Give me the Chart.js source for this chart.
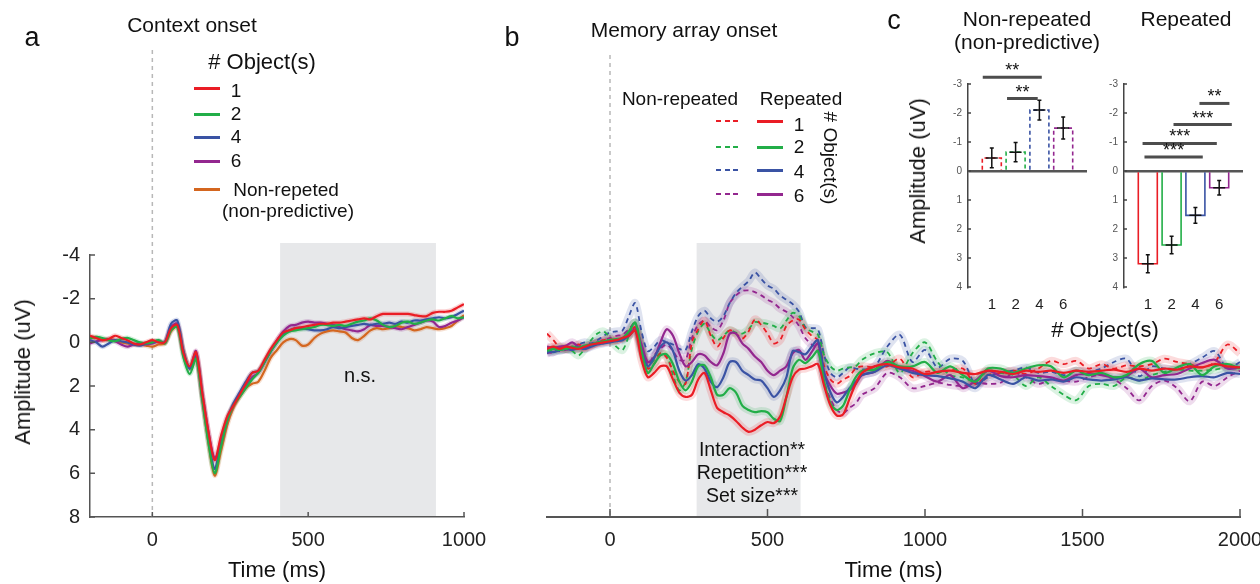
<!DOCTYPE html>
<html>
<head>
<meta charset="utf-8">
<script src="https://cdn.jsdelivr.net/npm/chart.js@4.4.1/dist/chart.umd.min.js"></script>
<style>
  html, body { margin: 0; padding: 0; background: #fff; }
  #fig { position: relative; width: 1260px; height: 584px; overflow: hidden;
         font-family: 'Liberation Sans', Arial, sans-serif; color: #111; }
  #fig canvas { position: absolute; left: 0; top: 0; }
  .txt { position: absolute; white-space: nowrap; }
  .sw { position: absolute; height: 2px; }
</style>
</head>
<body>
<div id="fig">
  <canvas id="chartA" width="1260" height="584"></canvas>
  <canvas id="chartB" width="1260" height="584"></canvas>
  <canvas id="chartC1" width="1260" height="584"></canvas>
  <canvas id="chartC2" width="1260" height="584"></canvas>
</div>
<script>
/* ERP figure — context onset, memory array onset, mean amplitudes */

// ── Panel a: context onset (ms, uV) ──
const timeA = [-200,-180,-160,-140,-120,-100,-80,-60,-40,-20,0,20,40,60,80,100,120,140,160,180,
  200,220,240,260,280,300,320,340,360,380,400,420,440,460,480,500,520,540,560,580,
  600,620,640,660,680,700,720,740,760,780,800,820,840,860,880,900,920,940,960,980,1000];
const ampA1 = [-0.3,-0.2,-0.1,-0.15,-0.3,-0.2,-0.1,0.05,0.1,0.0, -0.1,0.0,0.0,-0.65,-0.8,0.5,1.1,0.45,2.3,4.1,
  5.4,4.3,3.4,2.9,2.4,1.9,1.4,1.3,0.8,0.3, -0.1,-0.45,-0.55,-0.65,-0.7,-0.75,-0.8,-0.85,-0.85,-0.9,
  -0.9,-0.95,-1.0,-1.05,-1.1,-1.05,-1.2,-1.3,-1.3,-1.3, -1.3,-1.3,-1.25,-1.2,-1.2,-1.35,-1.4,-1.4,-1.45,-1.6,-1.75];
const ampA2 = [-0.2,-0.25,-0.2,-0.1,-0.05,-0.15,-0.2,-0.1,0.0,0.05, 0.0,-0.1,0.05,-0.55,-0.7,0.7,1.45,0.75,2.6,4.6,
  6.0,4.8,3.6,2.9,2.5,2.1,1.7,1.4,0.9,0.4, 0.0,-0.3,-0.5,-0.55,-0.6,-0.65,-0.7,-0.8,-0.8,-0.75,
  -0.8,-0.75,-0.85,-0.95,-1.0,-1.1,-1.0,-0.8,-0.7,-0.75, -0.9,-0.95,-0.85,-0.9,-1.0,-1.05,-1.0,-1.1,-1.2,-1.1,-1.15];
const ampA4 = [-0.1,0.0,0.2,0.05,-0.1,-0.05,0.0,0.1,0.15,0.05, 0.0,-0.05,0.0,-0.85,-1.0,0.4,1.2,0.6,2.5,4.4,
  5.8,4.6,3.5,2.8,2.3,1.8,1.4,1.3,0.9,0.4, 0.0,-0.4,-0.55,-0.65,-0.65,-0.6,-0.55,-0.55,-0.6,-0.7,
  -0.65,-0.7,-0.75,-0.8,-0.85,-0.8,-0.85,-0.85,-0.9,-0.85, -0.95,-0.9,-1.0,-1.0,-1.05,-1.1,-1.15,-1.1,-1.15,-1.3,-1.45];
const ampA6 = [0.05,-0.05,-0.1,-0.15,-0.05,0.1,0.2,0.1,0.05,0.1, 0.05,-0.05,0.0,-0.7,-0.85,0.5,1.2,0.4,2.3,4.1,
  5.3,4.7,3.6,2.9,2.4,2.0,1.6,1.4,0.9,0.4, -0.1,-0.5,-0.75,-0.8,-0.9,-0.95,-0.9,-0.9,-0.85,-0.8,
  -0.7,-0.6,-0.55,-0.5,-0.6,-0.8,-0.75,-0.75,-0.7,-0.65, -0.6,-0.7,-0.8,-0.9,-1.0,-0.95,-0.7,-0.75,-0.9,-1.0,-1.15];
const ampANonRep = [-0.2,-0.2,-0.1,-0.15,-0.1,0.0,0.05,0.1,0.1,0.15, 0.2,0.1,0.05,-0.5,-0.75,0.4,1.2,0.7,2.6,4.6,
  6.1,5.0,3.8,3.0,2.5,2.1,1.9,1.8,1.3,0.7, 0.35,0.0,-0.15,-0.1,0.15,0.1,-0.2,-0.4,-0.5,-0.55,
  -0.5,-0.45,-0.2,-0.1,-0.3,-0.55,-0.65,-0.6,-0.65,-0.75, -0.7,-0.65,-0.55,-0.6,-0.7,-0.65,-0.6,-0.65,-0.75,-1.0,-1.25];

// ── Panel b: memory array onset (ms, uV) ──
const timeB = [-200,-180,-160,-140,-120,-100,-80,-60,-40,-20,0,20,40,60,80,100,120,140,160,180,
  200,220,240,260,280,300,320,340,360,380,400,420,440,460,480,500,520,540,560,580,
  600,620,640,660,680,700,720,740,760,780,800,
  840,880,920,960,1000,1040,1080,1120,1160,1200,1240,1280,1320,1360,1400,
  1440,1480,1520,1560,1600,1640,1680,1720,1760,1800,1840,1880,1920,1960,2000];
const ampB1Rep = [0.3,0.2,0.3,0.2,0.25,0.3,0.2,0.1,0.05,0.0, -0.05,-0.1,-0.2,-0.3,-0.55,0.8,1.6,1.4,1.1,1.1,
  1.7,2.3,2.5,2.4,1.7,1.4,2.2,3.0,3.2,3.35, 3.6,3.9,4.1,4.0,3.8,3.65,3.7,3.4,2.5,1.6,
  1.25,1.2,1.1,1.0,2.0,2.9,3.35,3.3,2.6,1.9, 1.4,
  1.1,1.0,1.15,1.2,1.45,1.35,1.3,1.4,1.45,1.3, 1.35,1.45,1.3,1.35,1.3,1.4,1.3,1.35,1.3,1.25,
  1.35,1.2,1.3,1.2,1.25,1.1,1.15,1.0,1.1,1.15];
const ampB2Rep = [0.4,0.3,0.35,0.3,0.2,0.25,0.15,0.1,0.0,-0.05, -0.1,-0.15,-0.2,-0.5,-0.9,0.4,1.4,1.0,0.6,0.55,
  1.0,1.8,2.2,1.8,1.1,1.05,1.6,2.4,2.4,2.1, 2.3,2.9,3.1,3.2,3.15,3.2,3.5,3.6,2.5,1.2,
  0.8,0.95,0.7,0.4,1.8,2.8,3.1,2.9,2.2,1.6, 1.3,
  1.25,0.9,1.1,1.1,0.9,1.4,1.1,1.5,1.8,1.2, 1.2,1.4,1.2,1.05,1.1,1.6,1.3,1.5,1.4,1.6,
  1.5,1.0,0.85,1.4,1.15,1.0,1.5,1.1,1.0,1.2];
const ampB4Rep = [0.4,0.45,0.35,0.3,0.35,0.25,0.3,0.2,0.1,0.05, 0.0,-0.05,-0.1,-0.3,-0.55,0.4,1.1,0.7,0.2,0.0,
  0.4,1.3,1.75,1.5,1.0,1.2,1.8,2.05,1.6,0.9, 0.9,1.3,1.5,1.7,1.75,2.1,2.5,2.2,1.6,0.4,
  0.45,0.55,0.2,-0.1,1.4,2.3,2.75,2.5,2.1,1.8, 1.5,
  1.35,1.05,1.2,1.4,1.5,1.55,1.65,1.8,2.1,1.5, 1.7,1.9,1.6,1.75,1.7,1.8,1.6,1.7,1.75,1.7,
  1.6,1.75,1.65,1.7,1.7,1.6,1.55,1.6,1.4,1.45];
const ampB6Rep = [0.2,0.25,0.2,0.15,0.0,0.2,0.3,0.15,0.05,0.0, -0.05,-0.1,-0.15,-0.35,-0.6,0.1,0.9,0.7,0.0,-0.6,
  -0.3,0.5,1.1,0.9,0.55,0.6,0.9,1.05,0.5,-0.4, -0.4,0.05,0.3,0.65,0.9,1.3,1.5,1.3,1.1,0.5,
  0.35,0.8,0.45,0.05,1.4,2.0,2.35,2.3,2.2,1.9, 1.5,
  1.35,0.85,1.2,1.3,1.55,1.8,1.5,2.1,1.75,1.3, 1.55,1.6,1.5,1.55,1.6,1.75,1.5,1.45,1.5,1.6,
  1.55,1.2,1.6,1.5,1.45,1.2,0.95,0.8,1.2,1.15];
const ampB1Non = [-0.4,-0.1,0.2,0.3,0.2,0.1,0.25,0.15,0.0,-0.1, -0.15,-0.1,-0.2,-0.4,-0.7,0.3,1.2,1.0,0.5,0.7,
  1.3,1.8,1.9,0.0,-0.6,-1.0,-0.3,0.2,-0.2,-0.55, -0.4,-0.17,-0.5,-1.05,-0.8,-0.4,0.05,-0.1,-0.75,-1.0,
  -1.05,-0.6,-0.3,-0.1,1.1,1.7,1.9,1.7,1.55,1.2, 1.1,
  1.15,1.1,0.75,1.6,1.35,1.35,1.3,1.2,1.9,1.5, 1.4,1.3,1.45,1.2,0.85,1.0,0.85,1.2,1.0,1.2,
  1.05,1.1,1.0,0.75,0.9,1.0,1.15,0.9,0.1,0.5];
const ampB2Non = [0.3,0.4,0.2,0.3,0.4,0.6,0.3,-0.1,-0.4,-0.5, -0.2,0.2,0.35,-0.3,-0.9,0.2,1.1,0.8,0.5,0.6,
  1.5,2.2,1.8,0.3,-0.5,-0.85,-0.4,-0.1,-0.3,-0.55, -0.45,-0.4,-0.6,-0.93,-0.9,-0.85,-0.75,-0.63,-1.0,-1.35,
  -1.2,-0.65,-0.5,-0.35,0.6,1.1,1.3,1.2,1.15,1.1, 0.8,
  0.5,0.45,1.4,0.5,0.0,0.9,1.5,1.6,1.8,1.3, 1.4,1.5,2.0,1.6,2.0,2.4,2.65,2.0,1.9,2.0,
  1.6,1.75,1.5,1.35,1.25,1.3,1.3,1.25,1.15,1.1];
const ampB4Non = [0.5,0.35,0.4,0.3,0.3,0.1,0.0,0.05,-0.1,-0.3, -0.45,-0.5,-0.55,-1.2,-1.8,-0.5,0.4,0.2,-0.1,0.0,
  0.1,0.3,0.35,-0.5,-1.2,-1.45,-1.1,-0.95,-1.2,-1.8, -2.25,-2.55,-2.8,-3.2,-2.9,-2.6,-2.45,-2.15,-1.95,-1.75,
  -1.4,-0.7,-0.65,-0.6,0.6,1.4,1.6,1.4,1.15,1.2, 1.25,
  1.1,0.2,-0.35,0.9,0.35,1.15,0.75,0.85,1.9,1.6, 1.4,1.3,1.15,1.4,1.35,1.5,1.3,1.35,1.2,0.9,
  0.75,1.55,1.1,1.2,1.25,1.0,0.7,0.4,1.2,0.9];
const ampB6Non = [0.5,0.45,0.3,0.35,0.25,0.3,0.2,0.1,0.0,-0.1, -0.2,-0.3,-0.35,-0.6,-0.9,0.2,1.0,0.6,0.3,0.1,
  0.4,0.8,0.8,-0.2,-0.8,-1.0,-0.7,-0.55,-1.0,-1.8, -2.15,-2.35,-2.38,-2.3,-2.15,-1.95,-1.8,-1.55,-1.4,-1.16,
  -0.75,-0.2,0.1,0.3,1.8,2.6,3.1,3.25,3.0,2.8, 2.4,
  2.1,1.4,1.6,2.1,2.0,1.85,1.95,2.0,1.85,1.9, 1.85,1.4,1.6,1.9,1.7,1.75,1.8,1.6,1.5,1.7,
  2.1,2.66,2.0,1.75,2.1,2.7,1.8,2.0,1.6,1.3];

// ── Panel c: mean amplitude in the window ──
const setSizes = ['1', '2', '4', '6'];
const nonRepMean = [-0.45, -0.65, -2.1, -1.48];
const nonRepSem = [0.34, 0.33, 0.34, 0.38];
const repMean = [3.2, 2.55, 1.53, 0.58];
const repSem = [0.31, 0.3, 0.27, 0.25];
// significance bars: [from index, to index, level (uV), stars]
const sigNonRep = [[-0.38, 2.1, -3.23, '**'], [0.64, 1.93, -2.5, '**']];
const sigRep = [[2.17, 3.43, -2.33, '**'], [1.08, 3.53, -1.6, '***'], [-0.22, 2.9, -0.95, '***'], [-0.14, 2.31, -0.48, '***']];

const xTicksA = [0, 500, 1000];
const xTicksB = [0, 500, 1000, 1500, 2000];
const yTicksA = [-4, -2, 0, 2, 4, 6, 8];
const yTicksC = [-3, -2, -1, 0, 1, 2, 3, 4];
const windowA = [410, 910];
const windowB = [275, 605];

const COL = { red: '#ea1d25', green: '#22ae48', blue: '#3a53a4', purple: '#93278f', orange: '#d4661f' };
const FONT = "'Liberation Sans', Arial, sans-serif";
Chart.defaults.font.family = FONT;
Chart.defaults.color = '#111';

function rgba(hex, a) {
  const n = parseInt(hex.slice(1), 16);
  return `rgba(${n >> 16},${(n >> 8) & 255},${n & 255},${a})`;
}

// each trace = a wide translucent band + the thin mean line on top
function erpDatasets(times, list, bandW, bandA) {
  const sets = [];
  list.forEach(s => {
    sets.push({ data: s.data.map((v, i) => ({ x: times[i], y: v })), borderColor: rgba(s.color, bandA),
      borderWidth: bandW, pointRadius: 0, tension: 0.3, order: 3 });
    sets.push({ data: s.data.map((v, i) => ({ x: times[i], y: v })), borderColor: s.color,
      borderWidth: s.width, borderDash: s.dash || [], pointRadius: 0, tension: 0.3, order: s.dash ? 1 : 0 });
  });
  return sets;
}

// shaded test window + dashed onset line
const erpDecor = {
  id: 'erpDecor',
  beforeDatasetsDraw(chart, args, o) {
    const { ctx, chartArea: ca, scales: { x, y } } = chart;
    ctx.save();
    const top = y.getPixelForValue(o.shadeTop);
    const x1 = x.getPixelForValue(o.window[0]), x2 = x.getPixelForValue(o.window[1]);
    ctx.fillStyle = '#e7e8ea';
    ctx.fillRect(x1, top, x2 - x1, ca.bottom - top - 1);
    ctx.strokeStyle = '#b8b8b8';
    ctx.lineWidth = 1.5;
    ctx.setLineDash([4, 4]);
    const x0 = x.getPixelForValue(0);
    ctx.beginPath(); ctx.moveTo(x0, o.onsetTop); ctx.lineTo(x0, ca.bottom); ctx.stroke();
    ctx.restore();
  }
};

// MATLAB style ticks pointing into the axes
const inTicks = {
  id: 'inTicks',
  afterDraw(chart, args, o) {
    const { ctx, chartArea: ca } = chart;
    ctx.save();
    ctx.strokeStyle = o.color;
    ctx.lineWidth = 1.5;
    ctx.beginPath();
    o.axes.forEach(id => {
      const s = chart.scales[id];
      s.ticks.forEach(t => {
        const p = s.getPixelForValue(t.value);
        if (s.isHorizontal()) { ctx.moveTo(p, ca.bottom); ctx.lineTo(p, ca.bottom - o.len); }
        else { ctx.moveTo(ca.left, p); ctx.lineTo(ca.left + o.len, p); }
      });
    });
    ctx.stroke();
    ctx.restore();
  }
};

// open bars, error bars and significance brackets for panel c
const barDecor = {
  id: 'barDecor',
  afterDatasetsDraw(chart, args, o) {
    const { ctx, scales: { x, y } } = chart;
    const meta = chart.getDatasetMeta(0);
    ctx.save();
    meta.data.forEach((bar, i) => {
      const { x: bx, y: by, base, width } = bar.getProps(['x', 'y', 'base', 'width'], true);
      const l = bx - width / 2, r = bx + width / 2;
      ctx.strokeStyle = o.colors[i];
      ctx.lineWidth = 1.6;
      ctx.setLineDash(o.dash);
      ctx.beginPath(); ctx.moveTo(l, base); ctx.lineTo(l, by); ctx.lineTo(r, by); ctx.lineTo(r, base); ctx.stroke();
      ctx.setLineDash([]);
      ctx.strokeStyle = '#111';
      ctx.lineWidth = 1.5;
      const y1 = y.getPixelForValue(o.mean[i] - o.sem[i]), y2 = y.getPixelForValue(o.mean[i] + o.sem[i]);
      ctx.beginPath();
      ctx.moveTo(bx, y1); ctx.lineTo(bx, y2);
      ctx.moveTo(bx - 2, y1); ctx.lineTo(bx + 2, y1);
      ctx.moveTo(bx - 2, y2); ctx.lineTo(bx + 2, y2);
      ctx.moveTo(bx - 6, by); ctx.lineTo(bx + 6, by);
      ctx.stroke();
    });
    ctx.font = `18px ${FONT}`;
    ctx.textAlign = 'center';
    ctx.textBaseline = 'alphabetic';
    o.sig.forEach(([from, to, level, stars]) => {
      const yy = y.getPixelForValue(level);
      const a = x.getPixelForValue(from), b = x.getPixelForValue(to);
      ctx.strokeStyle = '#4d4d4d';
      ctx.lineWidth = 3;
      ctx.beginPath(); ctx.moveTo(a, yy); ctx.lineTo(b, yy); ctx.stroke();
      ctx.fillStyle = '#111';
      ctx.fillText(stars, (a + b) / 2, yy - 1);
    });
    ctx.restore();
  }
};

const tickFont = { size: 20 };

function erpOptions(pad, xTicks, xMax, showY, decor) {
  return {
    responsive: false, animation: false, events: [],
    layout: { padding: pad },
    plugins: { legend: { display: false }, tooltip: { enabled: false }, erpDecor: decor,
      inTicks: { axes: showY ? ['x', 'y'] : ['x'], len: showY ? 5 : 8, color: '#555' } },
    scales: {
      x: { type: 'linear', min: -200, max: xMax, offset: false, z: 1,
        afterBuildTicks: s => { s.ticks = xTicks.map(v => ({ value: v })); },
        afterFit: s => { s.height = 67; s.paddingLeft = 0; s.paddingRight = 0; },
        grid: { display: false, drawTicks: false },
        border: { color: '#555', width: showY ? 1.5 : 2 },
        ticks: { font: tickFont, color: '#222', padding: 11, maxRotation: 0, autoSkip: false, callback: v => String(v) },
        title: { display: true, text: 'Time (ms)', font: { size: 22 }, color: '#111', padding: 0 } },
      y: { display: showY, reverse: true, min: -4, max: 8,
        afterBuildTicks: s => { s.ticks = yTicksA.map(v => ({ value: v })); },
        afterFit: s => { s.width = showY ? 90 : 0; },
        grid: { display: false, drawTicks: false },
        border: { color: '#555', width: 1.5 },
        ticks: { font: tickFont, color: '#222', padding: 10, callback: v => String(v) } }
    }
  };
}

new Chart(document.getElementById('chartA'), {
  type: 'line',
  data: { datasets: erpDatasets(timeA, [
    { data: ampA1, color: COL.red, width: 2.2 },
    { data: ampA2, color: COL.green, width: 2.2 },
    { data: ampA4, color: COL.blue, width: 2.2 },
    { data: ampA6, color: COL.purple, width: 2.2 },
    { data: ampANonRep, color: COL.orange, width: 2.2 }
  ], 5, 0.2) },
  options: erpOptions({ left: 0, top: 255, right: 796, bottom: 0 }, xTicksA, 1000, true,
    { window: windowA, shadeTop: -4.55, onsetTop: 50 }),
  plugins: [erpDecor, inTicks]
});

new Chart(document.getElementById('chartB'), {
  type: 'line',
  data: { datasets: erpDatasets(timeB, [
    { data: ampB1Non, color: COL.red, width: 1.8, dash: [5, 4] },
    { data: ampB2Non, color: COL.green, width: 1.8, dash: [5, 4] },
    { data: ampB4Non, color: COL.blue, width: 1.8, dash: [5, 4] },
    { data: ampB6Non, color: COL.purple, width: 1.8, dash: [5, 4] },
    { data: ampB1Rep, color: COL.red, width: 2.2 },
    { data: ampB2Rep, color: COL.green, width: 2.2 },
    { data: ampB4Rep, color: COL.blue, width: 2.2 },
    { data: ampB6Rep, color: COL.purple, width: 2.2 }
  ], 8, 0.16) },
  options: erpOptions({ left: 547, top: 255, right: 20, bottom: 0 }, xTicksB, 2000, false,
    { window: windowB, shadeTop: -4.55, onsetTop: 55 }),
  plugins: [erpDecor, inTicks]
});

function barChart(id, mean, sem, sig, dash, padLeft, padRight) {
  const colors = [COL.red, COL.green, COL.blue, COL.purple];
  new Chart(document.getElementById(id), {
    type: 'bar',
    data: { datasets: [{ data: mean.map((v, i) => ({ x: i, y: v })), backgroundColor: 'rgba(0,0,0,0)',
      borderWidth: 0, barThickness: 19 }] },
    options: {
      responsive: false, animation: false, events: [],
      layout: { padding: { left: padLeft, top: 84, right: padRight, bottom: 0 } },
      plugins: { legend: { display: false }, tooltip: { enabled: false },
        barDecor: { colors, dash, mean, sem, sig },
        inTicks: { axes: ['y'], len: 3, color: '#444' } },
      scales: {
        x: { type: 'linear', min: -1, max: 4, offset: false,
          afterBuildTicks: s => { s.ticks = setSizes.map((_, i) => ({ value: i })); },
          afterFit: s => { s.height = 297; },
          grid: { display: false, drawTicks: false },
          border: { display: false },
          ticks: { font: { size: 15 }, color: '#222', padding: 9, maxRotation: 0, autoSkip: false,
            callback: v => setSizes[v] } },
        y: { reverse: true, min: -3, max: 4,
          afterBuildTicks: s => { s.ticks = yTicksC.map(v => ({ value: v })); },
          afterFit: s => { s.width = 28; },
          grid: { drawTicks: false, lineWidth: 2.5,
            color: c => (c.tick && c.tick.value === 0 ? '#555' : 'rgba(0,0,0,0)') },
          border: { color: '#444', width: 1.5 },
          ticks: { font: { size: 10 }, color: '#555', padding: 6, callback: v => String(v) } }
      }
    },
    plugins: [barDecor, inTicks]
  });
}
barChart('chartC1', nonRepMean, nonRepSem, sigNonRep, [4, 3], 940, 173);
barChart('chartC2', repMean, repSem, sigRep, [], 1096, 17);

// ── Text and legends (layout only) ──
const fig = document.getElementById('fig');
function addText(t, x, baseline, size) {
  const d = document.createElement('div');
  d.className = 'txt';
  d.textContent = t;
  d.style.cssText += `left:${x}px;top:${baseline - 0.8465 * size}px;font-size:${size}px;line-height:${size}px;transform:translateX(-50%)`;
  fig.appendChild(d);
}
function addRot(t, cx, cy, size, deg) {
  const d = document.createElement('div');
  d.className = 'txt';
  d.textContent = t;
  d.style.cssText += `left:${cx}px;top:${cy}px;font-size:${size}px;line-height:${size}px;transform:translate(-50%,-50%) rotate(${deg}deg)`;
  fig.appendChild(d);
}
function addSwatch(x, y, w, color, dashed) {
  const d = document.createElement('div');
  d.className = 'sw';
  d.style.left = x + 'px';
  d.style.top = (y - 1) + 'px';
  d.style.width = w + 'px';
  d.style.background = dashed
    ? `repeating-linear-gradient(to right, ${color} 0 5px, transparent 5px 8.5px)` : color;
  if (!dashed) { d.style.height = '2.5px'; }
  fig.appendChild(d);
}

[
  ['a', 32, 47, 27], ['Context onset', 192, 32, 21], ['# Object(s)', 262, 70, 22],
  ['1', 236, 97, 19], ['2', 236, 120, 19], ['4', 236, 143, 19], ['6', 236, 167, 19],
  ['Non-repeted', 286, 196, 19], ['(non-predictive)', 288, 217, 19],
  ['n.s.', 360, 382, 20],
  ['b', 512, 47, 27], ['Memory array onset', 684, 37, 21],
  ['Non-repeated', 680, 105, 19], ['Repeated', 801, 105, 19],
  ['1', 799, 131, 19], ['2', 799, 153, 19], ['4', 799, 178, 19], ['6', 799, 202, 19],
  ['Interaction**', 752, 457, 19.5], ['Repetition***', 752, 480, 19.5], ['Set size***', 752, 503, 19.5],
  ['c', 894, 30, 27],
  ['Non-repeated', 1027, 26, 21], ['(non-predictive)', 1027, 49, 21], ['Repeated', 1186, 26, 21],
  ['# Object(s)', 1105, 338, 22]
].forEach(l => addText(...l));

addRot('Amplitude (uV)', 23, 372, 22, -90);
addRot('# Object(s)', 830, 158, 19, 90);
addRot('Amplitude (uV)', 918, 171, 22, -90);

[[88, COL.red], [114, COL.green], [137, COL.blue], [161, COL.purple], [189, COL.orange]]
  .forEach(([y, c]) => addSwatch(194, y, 26, c, false));
[[121, COL.red], [147, COL.green], [170, COL.blue], [194, COL.purple]].forEach(([y, c]) => {
  addSwatch(716, y, 22, c, true);
  addSwatch(757, y, 26, c, false);
});
</script>
</body>
</html>
